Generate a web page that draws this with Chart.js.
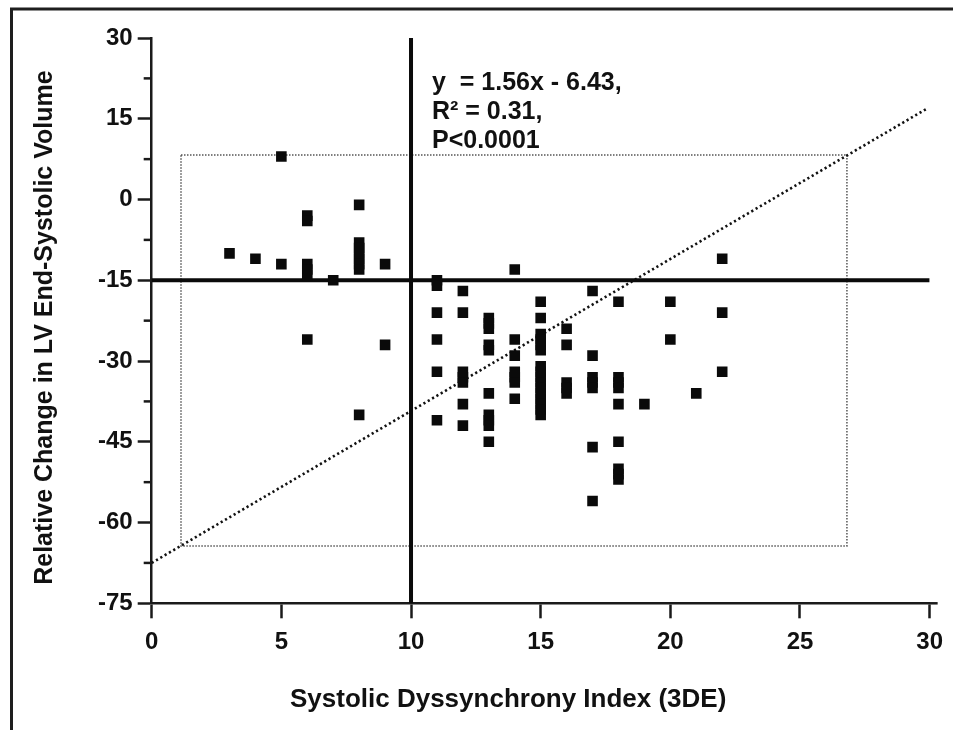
<!DOCTYPE html>
<html>
<head>
<meta charset="utf-8">
<script src="https://cdn.jsdelivr.net/npm/chart.js@4.4.1/dist/chart.umd.min.js"></script>
<style>
  html, body { margin: 0; padding: 0; background: #ffffff; }
  #wrap { width: 953px; height: 730px; }
</style>
</head>
<body>
<div id="wrap"><canvas id="c" width="953" height="730"></canvas></div>
<script>
// ---- data ----
const sdiX = [
  3, 4, 5, 5,
  6, 6, 6, 6, 6, 6,
  7,
  8, 8, 8, 8, 8, 8, 8, 8,
  9, 9,
  11, 11, 11, 11, 11, 11,
  12, 12, 12, 12, 12, 12, 12,
  13, 13, 13, 13, 13, 13, 13, 13, 13, 13,
  14, 14, 14, 14, 14, 14, 14,
  15, 15, 15, 15, 15, 15, 15, 15, 15, 15, 15, 15, 15, 15, 15, 15,
  16, 16, 16, 16, 16,
  17, 17, 17, 17, 17, 17, 17,
  18, 18, 18, 18, 18, 18, 18, 18, 18,
  19,
  20, 20,
  21,
  22, 22, 22
];
const esvChange = [
  -10, -11, 8, -12,
  -3, -4, -12, -13, -14, -26,
  -15,
  -1, -8, -9, -10, -11, -12, -13, -40,
  -12, -27,
  -15, -16, -21, -26, -32, -41,
  -17, -21, -32, -33, -34, -38, -42,
  -22, -23, -24, -27, -28, -36, -40, -41, -42, -45,
  -13, -26, -29, -32, -33, -34, -37,
  -19, -22, -25, -26, -27, -28, -31, -32, -33, -34, -35, -36, -37, -38, -39, -40,
  -24, -27, -34, -35, -36,
  -17, -29, -33, -34, -35, -46, -56,
  -19, -33, -34, -35, -38, -45, -50, -51, -52,
  -38,
  -19, -26,
  -36,
  -11, -21, -32
];
const xTicks = [0, 5, 10, 15, 20, 25, 30];
const yTicks = [30, 15, 0, -15, -30, -45, -60, -75];
const cutoffY = [-15, -15];      // horizontal reference line
const cutoffYx = [0, 30];
const cutoffX = [10, 10];        // vertical reference line
const cutoffXy = [-75, 30];
const fitX = [0, 29.9];          // regression line as drawn
const fitY = [-67.5, 16.9];
const boxX = [1.13, 26.81, 26.81, 1.13, 1.13];   // dotted box
const boxY = [8.27, 8.27, -64.35, -64.35, 8.27];
const annotationLines = ['y  = 1.56x - 6.43,', 'R\u00B2 = 0.31,', 'P<0.0001'];
const xTitle = 'Systolic Dyssynchrony Index (3DE)';
const yTitle = 'Relative Change in LV End-Systolic Volume';

// ---- build ----
const zip = (xs, ys) => xs.map((v, i) => ({ x: v, y: ys[i] }));
const FONT = '"Liberation Sans", Arial, Helvetica, sans-serif';
const INK = '#111111';
const minorY = yTicks.slice(1).map((v, i) => (v + yTicks[i]) / 2);

const decorations = {
  id: 'decorations',
  beforeDraw(chart) {
    const ctx = chart.ctx;
    ctx.save();
    ctx.fillStyle = '#ffffff';
    ctx.fillRect(0, 0, chart.width, chart.height);
    ctx.restore();
  },
  afterDraw(chart) {
    const ctx = chart.ctx;
    const ys = chart.scales.y;
    const area = chart.chartArea;
    ctx.save();
    // minor ticks on y axis
    ctx.strokeStyle = '#1a1a1a';
    ctx.lineWidth = 2.5;
    minorY.forEach(v => {
      const py = ys.getPixelForValue(v);
      ctx.beginPath();
      ctx.moveTo(area.left - 8, py);
      ctx.lineTo(area.left, py);
      ctx.stroke();
    });
    // small overshoot of the x axis line past the last tick
    ctx.beginPath();
    ctx.moveTo(area.right, area.bottom);
    ctx.lineTo(area.right + 8, area.bottom);
    ctx.stroke();
    // frame (left and top edges)
    ctx.strokeStyle = '#1e1e1e';
    ctx.lineWidth = 3;
    ctx.beginPath();
    ctx.moveTo(11.5, 730);
    ctx.lineTo(11.5, 9);
    ctx.lineTo(953, 9);
    ctx.stroke();
    // annotation
    ctx.fillStyle = INK;
    ctx.font = 'bold 25px ' + FONT;
    ctx.textAlign = 'left';
    ctx.textBaseline = 'alphabetic';
    const baselines = [90, 119, 148];
    annotationLines.forEach((t, i) => ctx.fillText(t, 432, baselines[i]));
    ctx.restore();
  }
};

new Chart(document.getElementById('c'), {
  type: 'scatter',
  data: {
    datasets: [
      {
        label: 'Patients',
        data: zip(sdiX, esvChange),
        pointStyle: 'rect',
        pointRadius: 7.5,
        pointHoverRadius: 7.5,
        backgroundColor: '#0a0a0a',
        borderWidth: 0,
        order: 1
      },
      {
        label: 'Cutoff y',
        data: zip(cutoffYx, cutoffY),
        showLine: true,
        pointRadius: 0,
        borderColor: '#0a0a0a',
        borderWidth: 4,
        order: 2
      },
      {
        label: 'Cutoff x',
        data: zip(cutoffX, cutoffXy),
        showLine: true,
        pointRadius: 0,
        borderColor: '#0a0a0a',
        borderWidth: 4,
        order: 2
      },
      {
        label: 'Fit',
        data: zip(fitX, fitY),
        showLine: true,
        pointRadius: 0,
        borderColor: '#111111',
        borderWidth: 2.6,
        borderDash: [2.2, 2.8],
        order: 3
      },
      {
        label: 'Box',
        data: zip(boxX, boxY),
        showLine: true,
        pointRadius: 0,
        borderColor: '#555555',
        borderWidth: 1.5,
        borderDash: [1.5, 1.5],
        order: 4
      }
    ]
  },
  options: {
    responsive: false,
    animation: false,
    devicePixelRatio: 1,
    layout: { padding: { left: 0, top: 38, right: 22.3, bottom: 0 } },
    plugins: { legend: { display: false }, tooltip: { enabled: false } },
    scales: {
      x: {
        type: 'linear',
        min: 0,
        max: 30,
        afterBuildTicks: s => { s.ticks = xTicks.map(v => ({ value: v })); },
        afterFit: s => { s.height = 126.7; },
        ticks: {
          color: INK,
          font: { family: FONT, size: 24, weight: 'bold' },
          padding: 10,
          maxRotation: 0,
          autoSkip: false
        },
        grid: { drawOnChartArea: false, drawTicks: true, tickLength: 15, tickWidth: 2.5, tickColor: '#1a1a1a' },
        border: { display: true, color: '#1a1a1a', width: 2.5 },
        title: {
          display: true,
          text: xTitle + '         ',
          color: INK,
          font: { family: FONT, size: 26, weight: 'bold' },
          padding: { top: 0, bottom: 15 }
        }
      },
      y: {
        type: 'linear',
        min: -75,
        max: 30,
        afterBuildTicks: s => { s.ticks = yTicks.map(v => ({ value: v })); },
        afterFit: s => { s.width = 151.7; },
        ticks: {
          color: INK,
          font: { family: FONT, size: 24, weight: 'bold' },
          padding: 5,
          autoSkip: false
        },
        grid: { drawOnChartArea: false, drawTicks: true, tickLength: 14, tickWidth: 2.5, tickColor: '#1a1a1a' },
        border: { display: true, color: '#1a1a1a', width: 2.5 },
        title: {
          display: true,
          text: yTitle + '  ',
          color: INK,
          font: { family: FONT, size: 25, weight: 'bold' },
          padding: { top: 30, bottom: 0 }
        }
      }
    }
  },
  plugins: [decorations]
});
</script>
</body>
</html>
